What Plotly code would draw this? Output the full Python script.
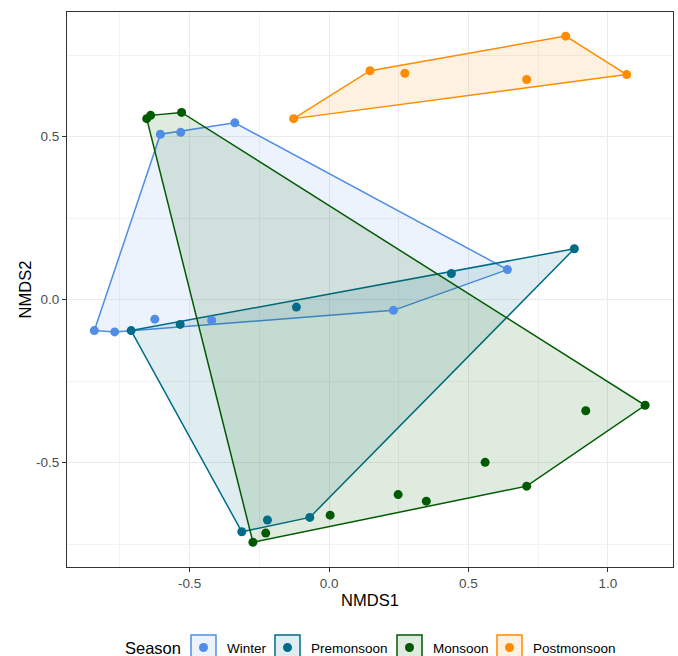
import plotly.graph_objects as go

seasons = ["Winter", "Premonsoon", "Monsoon", "Postmonsoon"]
colors = {"Winter": "#4F8DE6", "Premonsoon": "#006C87", "Monsoon": "#005A00", "Postmonsoon": "#FF8C00"}
fills = {"Winter": "rgba(79,141,230,0.10)", "Premonsoon": "rgba(0,108,135,0.12)",
         "Monsoon": "rgba(0,90,0,0.12)", "Postmonsoon": "rgba(255,140,0,0.12)"}

winter_x = [-0.842, -0.769, -0.625, -0.421, -0.605, -0.532, -0.338, 0.231, 0.640]
winter_y = [-0.095, -0.099, -0.060, -0.064, 0.507, 0.513, 0.542, -0.033, 0.092]

premonsoon_x = [-0.710, -0.534, -0.117, 0.439, 0.880, -0.313, -0.221, -0.069]
premonsoon_y = [-0.095, -0.076, -0.023, 0.080, 0.156, -0.712, -0.676, -0.668]

monsoon_x = [-0.654, -0.640, -0.529, -0.273, -0.227, 0.004, 0.248, 0.349, 0.560, 0.709, 0.921, 1.134]
monsoon_y = [0.555, 0.565, 0.574, -0.744, -0.716, -0.661, -0.598, -0.618, -0.499, -0.572, -0.341, -0.324]

postmonsoon_x = [-0.127, 0.147, 0.272, 0.709, 0.849, 1.068]
postmonsoon_y = [0.555, 0.702, 0.694, 0.675, 0.808, 0.690]

data = {
    "Winter": (winter_x, winter_y),
    "Premonsoon": (premonsoon_x, premonsoon_y),
    "Monsoon": (monsoon_x, monsoon_y),
    "Postmonsoon": (postmonsoon_x, postmonsoon_y),
}

x_ticks = [-0.5, 0.0, 0.5, 1.0]
x_ticklabels = ["-0.5", "0.0", "0.5", "1.0"]
y_ticks = [-0.5, 0.0, 0.5]
y_ticklabels = ["-0.5", "0.0", "0.5"]


def convex_hull(xs, ys):
    pts = sorted(set(zip(xs, ys)))
    if len(pts) <= 2:
        return pts

    def cross(o, a, b):
        return (a[0] - o[0]) * (b[1] - o[1]) - (a[1] - o[1]) * (b[0] - o[0])

    lower = []
    for p in pts:
        while len(lower) >= 2 and cross(lower[-2], lower[-1], p) <= 0:
            lower.pop()
        lower.append(p)
    upper = []
    for p in reversed(pts):
        while len(upper) >= 2 and cross(upper[-2], upper[-1], p) <= 0:
            upper.pop()
        upper.append(p)
    return lower[:-1] + upper[:-1]


fig = go.Figure()

for s in seasons:
    xs, ys = data[s]
    hull = convex_hull(xs, ys)
    hx = [p[0] for p in hull] + [hull[0][0]]
    hy = [p[1] for p in hull] + [hull[0][1]]
    fig.add_trace(go.Scatter(
        x=hx, y=hy, mode="lines", fill="toself", fillcolor=fills[s],
        line=dict(color=colors[s], width=1.5), name=s, legendgroup=s,
        showlegend=False, hoverinfo="skip"))

for s in seasons:
    xs, ys = data[s]
    fig.add_trace(go.Scatter(
        x=xs, y=ys, mode="markers", name=s, legendgroup=s,
        marker=dict(color=colors[s], size=9), showlegend=False))

FONT = "Liberation Sans, Arial, sans-serif"

axis_common = dict(
    showgrid=True, gridcolor="#EBEBEB", gridwidth=1.1,
    zeroline=False, showline=True, linecolor="#333333", linewidth=1, mirror=True,
    ticks="outside", ticklen=4, tickcolor="#333333", tickwidth=1,
    tickfont=dict(family=FONT, size=13.5, color="#4D4D4D"),
    minor=dict(showgrid=True, gridcolor="#F2F2F2", gridwidth=0.8, dtick=0.25, ticks=""),
    automargin=False,
)

# plot area in pixels (for legend layout)
L, R, T, B = 67, 5, 12, 89
W, H = 678, 656
pw, ph = W - L - R, H - T - B


def px_x(px):
    return (px - L) / pw


def px_y(py):
    return (H - B - py) / ph


# ggplot-like legend drawn below the panel
legend_key_left = [191, 275, 397, 497]
key_size = 25
key_top = 635
text_y = 648
shapes = []
annotations = [dict(x=px_x(123), y=px_y(text_y), xref="paper", yref="paper",
                    text="Season", showarrow=False, xanchor="left", yanchor="middle",
                    font=dict(family=FONT, size=16.5, color="black"))]
for s, kx in zip(seasons, legend_key_left):
    shapes.append(dict(type="rect", xref="paper", yref="paper",
                       x0=px_x(kx), x1=px_x(kx + key_size),
                       y0=px_y(key_top + key_size), y1=px_y(key_top),
                       line=dict(color=colors[s], width=1.5), fillcolor=fills[s], layer="above"))
    cx, cy = kx + key_size / 2, key_top + key_size / 2
    shapes.append(dict(type="circle", xref="paper", yref="paper",
                       x0=px_x(cx - 4.5), x1=px_x(cx + 4.5),
                       y0=px_y(cy + 4.5), y1=px_y(cy - 4.5),
                       line=dict(width=0), fillcolor=colors[s], layer="above"))
    annotations.append(dict(x=px_x(kx + key_size + 9), y=px_y(text_y), xref="paper", yref="paper",
                            text=s, showarrow=False, xanchor="left", yanchor="middle",
                            font=dict(family=FONT, size=13.5, color="black")))

fig.update_layout(
    width=W, height=H,
    paper_bgcolor="white", plot_bgcolor="white",
    margin=dict(l=L, r=R, t=T, b=B),
    font=dict(family=FONT, color="black"),
    xaxis=dict(range=[-0.94, 1.234], tickvals=x_ticks, ticktext=x_ticklabels,
               title=dict(text="NMDS1", font=dict(size=16.5, color="black"), standoff=4),
               **axis_common),
    yaxis=dict(range=[-0.82, 0.882], tickvals=y_ticks, ticktext=y_ticklabels,
               title=dict(text="NMDS2", font=dict(size=16.5, color="black"), standoff=0),
               **axis_common),
    shapes=shapes,
    annotations=annotations,
    showlegend=False,
)

fig.write_html(
    "out.html",
    config={"displayModeBar": False},
    post_script="document.body.style.margin='0px';document.body.style.padding='0px';"
                "document.body.style.overflow='hidden';",
)
